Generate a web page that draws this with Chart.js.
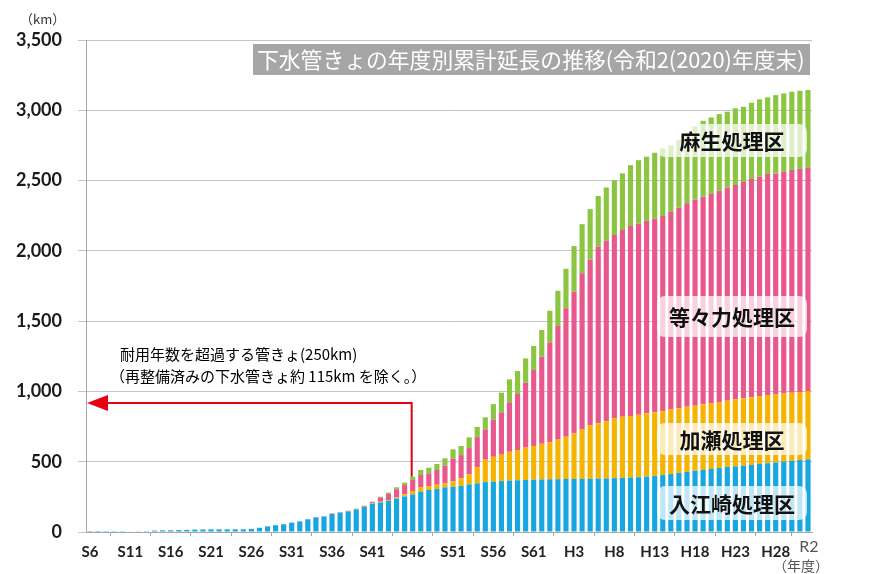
<!DOCTYPE html>
<html lang="ja">
<head>
<meta charset="utf-8">
<title>下水管きょの年度別累計延長の推移</title>
<script src="https://cdn.jsdelivr.net/npm/chart.js@4.4.1/dist/chart.umd.min.js"></script>
<style>
  html, body { margin: 0; padding: 0; background: #fff; }
  #wrap { width: 876px; height: 574px; }
</style>
</head>
<body>
<div id="wrap"><canvas id="myChart" width="876" height="574"></canvas></div>
<script>
// fiscal years S6 (1931) .. R2 (2020)
var years = [
  'S6','S7','S8','S9','S10','S11','S12','S13','S14','S15',
  'S16','S17','S18','S19','S20','S21','S22','S23','S24','S25',
  'S26','S27','S28','S29','S30','S31','S32','S33','S34','S35',
  'S36','S37','S38','S39','S40','S41','S42','S43','S44','S45',
  'S46','S47','S48','S49','S50','S51','S52','S53','S54','S55',
  'S56','S57','S58','S59','S60','S61','S62','S63','H1','H2',
  'H3','H4','H5','H6','H7','H8','H9','H10','H11','H12',
  'H13','H14','H15','H16','H17','H18','H19','H20','H21','H22',
  'H23','H24','H25','H26','H27','H28','H29','H30','R1','R2'
];

// labels shown under the axis
var tickLabels = ['S6','S11','S16','S21','S26','S31','S36','S41','S46','S51',
  'S56','S61','H3','H8','H13','H18','H23','H28','R2'];

var yTicks = [0, 500, 1000, 1500, 2000, 2500, 3000, 3500];

// km per treatment district (stacked, bottom to top)
var irieZaki = [
  0.5,0.5,1,1,1.5,3,5,6,10,12,
  12,14,15,17,18,19,19,19,19,19,
  22,30,40,48,55,66,75,90,104,110,
  128,137,146,160,178,200,210,222,238,253,
  267,287,299,306,318,322,327,339,346,355,
  358,362,366,368,370,372,374,375,376,377,
  378,378,379,380,381,383,385,387,390,393,
  398,405,412,420,427,435,442,448,455,462,
  467,472,478,484,489,495,501,506,512,517
];
var kase = [
  0,0,0,0,0,0,0,0,0,0,
  0,0,0,0,0,0,0,0,0,0,
  0,0,0,0,0,0,0,0,0,0,
  0,0,0,1,2,3,5,6,8,15,
  25,31,28,30,28,38,55,73,116,160,
  177,188,205,215,230,240,254,263,281,301,
  322,352,380,393,408,425,435,438,444,451,
  453,455,460,460,464,463,466,467,467,472,
  477,479,480,483,485,484,485,485,484,486
];
var todoroki = [
  0,0,0,0,0,0,0,0,0,0,
  0,0,0,0,0,0,0,0,0,0,
  0,0,0,0,0,1,1,2,2,2,
  3,3,4,4,6,9,30,42,58,66,
  78,87,90,105,126,162,165,185,213,215,
  265,301,352,399,462,540,619,711,808,913,
  1009,1110,1180,1256,1283,1304,1328,1351,1361,1370,
  1380,1388,1406,1427,1447,1468,1477,1489,1506,1515,
  1524,1540,1553,1560,1572,1572,1577,1584,1586,1588
];
var aso = [
  0,0,0,0,0,0,0,0,0,0,
  0,0,0,0,0,0,0,0,0,0,
  0,0,0,0,0,0,0,0,0,0,
  1,1,1,1,1,4,6,10,14,17,
  23,36,40,43,52,66,65,76,73,86,
  110,140,163,163,173,171,190,225,251,281,
  325,350,358,361,379,391,403,434,450,456,
  467,481,474,483,502,519,540,545,545,541,
  546,534,543,551,546,557,557,557,557,553
];

var seriesNames = ['入江崎処理区', '加瀬処理区', '等々力処理区', '麻生処理区'];
var seriesColors = ['#17a6e0', '#f4b400', '#e8588c', '#8cc540'];

var cjk = '"Noto Sans CJK JP", "Noto Sans", sans-serif';

// white background
var bgPlugin = {
  id: 'bg',
  beforeDraw: function(chart) {
    var c = chart.ctx;
    c.save();
    c.fillStyle = '#fff';
    c.fillRect(0, 0, chart.width, chart.height);
    c.restore();
  }
};

// title, district labels, arrow note
var overlayPlugin = {
  id: 'overlay',
  afterDatasetsDraw: function(chart) {
    var c = chart.ctx;
    var xs = chart.scales.x, ys = chart.scales.y;
    c.save();

    // title box
    c.fillStyle = '#a6a6a6';
    c.fillRect(253, 44, 557, 31);
    var title = '下水管きょの年度別累計延長の推移(令和2(2020)年度末)';
    var size = 22;
    c.font = size + 'px ' + cjk;
    var w = c.measureText(title).width;
    if (w > 548) {
      size = size * 548 / w;
      c.font = size + 'px ' + cjk;
    }
    c.fillStyle = '#fff';
    c.textBaseline = 'middle';
    c.textAlign = 'left';
    c.fillText(title, 257, 60);

    // district labels
    var boxes = [
      { text: seriesNames[3], y: 124, h: 33 },
      { text: seriesNames[2], y: 296, h: 41 },
      { text: seriesNames[1], y: 423, h: 32 },
      { text: seriesNames[0], y: 486, h: 34 }
    ];
    boxes.forEach(function(b) {
      c.fillStyle = 'rgba(255,255,255,0.72)';
      c.beginPath();
      c.roundRect(657, b.y, 150, b.h, 8);
      c.fill();
      c.fillStyle = '#111';
      c.font = 'bold 21px ' + cjk;
      c.textAlign = 'center';
      c.fillText(b.text, 732, b.y + b.h / 2 + 1);
    });

    // note text
    c.fillStyle = '#000';
    c.font = '15px ' + cjk;
    c.textAlign = 'left';
    c.fillText('耐用年数を超過する管きょ(250km)', 120, 354);
    c.fillText('（再整備済みの下水管きょ約 115km を除く。）', 110, 376);

    // red arrow from the S46 bar to the axis
    var idx = years.indexOf('S46');
    var bx = xs.getPixelForValue(idx) - 1;
    var top = ys.getPixelForValue(irieZaki[idx] + kase[idx] + todoroki[idx] + aso[idx]);
    var ay = 403;
    c.strokeStyle = '#e60012';
    c.lineWidth = 2;
    c.beginPath();
    c.moveTo(bx, top);
    c.lineTo(bx, ay);
    c.lineTo(106, ay);
    c.stroke();
    c.fillStyle = '#e60012';
    c.beginPath();
    c.moveTo(87, ay);
    c.lineTo(108, ay - 8);
    c.lineTo(108, ay + 8);
    c.closePath();
    c.fill();

    // unit labels
    c.fillStyle = '#333';
    c.font = '13px ' + cjk;
    c.textAlign = 'left';
    c.fillText('（km）', 20, 19);

    var rx = xs.getPixelForValue(years.length - 1) + 1;
    c.fillStyle = '#555';
    c.font = '16px Lato, sans-serif';
    c.textAlign = 'center';
    c.fillText('R2', rx, 547);
    c.font = '14px ' + cjk;
    c.fillText('（年度）', rx - 8, 566);

    c.restore();
  }
};

var datasets = [irieZaki, kase, todoroki, aso].map(function(vals, i) {
  return {
    label: seriesNames[i],
    data: vals,
    backgroundColor: seriesColors[i],
    borderWidth: 0,
    categoryPercentage: 1,
    barPercentage: 0.64
  };
});

var ctx = document.getElementById('myChart').getContext('2d');
var myChart = new Chart(ctx, {
  type: 'bar',
  data: { labels: years, datasets: datasets },
  options: {
    responsive: false,
    animation: false,
    layout: { padding: { left: 0, right: 64, top: 40, bottom: 0 } },
    plugins: {
      legend: { display: false },
      tooltip: { enabled: false }
    },
    scales: {
      x: {
        stacked: true,
        afterFit: function(scale) { scale.height = 42; },
        grid: { drawOnChartArea: false, drawTicks: true, tickLength: 4, color: '#a6a6a6' },
        border: { color: '#a6a6a6' },
        ticks: {
          autoSkip: false,
          maxRotation: 0,
          padding: 7,
          color: '#222',
          font: { family: 'Lato', weight: 'bold', size: 15 },
          callback: function(val) {
            var lab = this.getLabelForValue(val);
            if (lab === 'R2') return '';
            return tickLabels.indexOf(lab) >= 0 ? lab : null;
          }
        }
      },
      y: {
        stacked: true,
        min: 0,
        max: 3500,
        afterFit: function(scale) { scale.width = 86; },
        afterBuildTicks: function(scale) {
          scale.ticks = yTicks.map(function(v) { return { value: v }; });
        },
        grid: { color: '#c4c4c4', tickLength: 8 },
        border: { color: '#a6a6a6' },
        ticks: {
          padding: 16,
          color: '#1a1a1a',
          font: { family: 'Lato', weight: 'bold', size: 18 },
          callback: function(v) { return v.toLocaleString('en-US'); }
        }
      }
    }
  },
  plugins: [bgPlugin, overlayPlugin]
});
</script>
</body>
</html>
